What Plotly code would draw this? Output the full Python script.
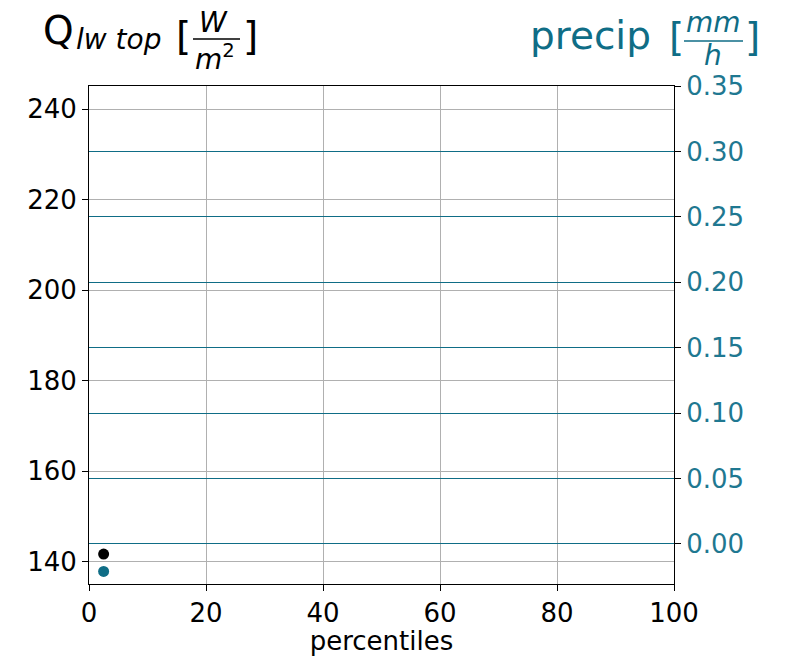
import plotly.graph_objects as go

# data
percentiles = [2.5]
q_lw_top = [141.7]
precip = [-0.021]

left_ticks = [140, 160, 180, 200, 220, 240]
right_ticks = [0.00, 0.05, 0.10, 0.15, 0.20, 0.25, 0.30, 0.35]
x_ticks = [0, 20, 40, 60, 80, 100]

TEAL = "#0f6d86"
TEAL_TXT = "#1f7891"
FONT = "DejaVu Sans"

W, H = 787, 656
L, R, T, B = 89, 113, 86, 72
PW, PH = W - L - R, H - T - B


def px(x):
    return (x - L) / PW


def py(y):
    return (H - B - y) / PH


fig = go.Figure()
fig.add_trace(go.Scatter(x=percentiles, y=q_lw_top, mode="markers",
                         marker=dict(color="black", size=11), yaxis="y", showlegend=False))
fig.add_trace(go.Scatter(x=percentiles, y=precip, mode="markers",
                         marker=dict(color=TEAL, size=11), yaxis="y2", showlegend=False))

fig.update_layout(
    width=W, height=H,
    margin=dict(l=L, r=R, t=T, b=B, autoexpand=False),
    plot_bgcolor="white", paper_bgcolor="white",
    font=dict(family=FONT, size=26, color="black"),
    xaxis=dict(range=[0, 100], tickvals=x_ticks, showgrid=True, gridcolor="#b0b0b0", gridwidth=1,
               showline=True, linecolor="black", linewidth=1, mirror=True, automargin=False,
               ticks="outside", ticklen=6, tickcolor="black", zeroline=False,
               title=dict(text="percentiles", font=dict(size=26))),
    yaxis=dict(range=[135.1, 245.1], tickvals=left_ticks, showgrid=True, gridcolor="#b0b0b0", gridwidth=1,
               showline=True, linecolor="black", linewidth=1, automargin=False,
               ticks="outside", ticklen=6, tickcolor="black", zeroline=False),
    yaxis2=dict(range=[-0.0306, 0.35], tickvals=right_ticks, tickformat=".2f", overlaying="y", side="right",
                showgrid=True, gridcolor=TEAL, gridwidth=1, automargin=False,
                showline=True, linecolor="black", linewidth=1,
                ticks="outside", ticklen=6, tickcolor="black", zeroline=False,
                tickfont=dict(color=TEAL_TXT)),
)

ann = []
shapes = []
# left title
ann.append(dict(text="Q", x=px(41), y=py(31), xanchor="left", yanchor="middle",
                font=dict(size=39, color="black")))
ann.append(dict(text="<i>lw top</i>", x=px(74), y=py(40), xanchor="left", yanchor="middle",
                font=dict(size=28, color="black")))
ann.append(dict(text="[", x=px(183), y=py(36), xanchor="center", yanchor="middle",
                font=dict(size=39, color="black")))
ann.append(dict(text="<i>W</i>", x=px(213), y=py(23), xanchor="center", yanchor="middle",
                font=dict(size=28, color="black")))
ann.append(dict(text="<i>m</i><sup>2</sup>", x=px(215), y=py(58), xanchor="center", yanchor="middle",
                font=dict(size=28, color="black")))
ann.append(dict(text="]", x=px(250), y=py(36), xanchor="center", yanchor="middle",
                font=dict(size=39, color="black")))
shapes.append(dict(type="line", xref="paper", yref="paper", x0=px(193), x1=px(240), y0=py(39), y1=py(39),
                   line=dict(color="black", width=1.5)))
# right title
ann.append(dict(text="precip", x=px(528), y=py(35), xanchor="left", yanchor="middle",
                font=dict(size=39, color=TEAL)))
ann.append(dict(text="[", x=px(676), y=py(37), xanchor="center", yanchor="middle",
                font=dict(size=39, color=TEAL)))
ann.append(dict(text="<i>mm</i>", x=px(713), y=py(23), xanchor="center", yanchor="middle",
                font=dict(size=28, color=TEAL)))
ann.append(dict(text="<i>h</i>", x=px(713), y=py(56), xanchor="center", yanchor="middle",
                font=dict(size=28, color=TEAL)))
ann.append(dict(text="]", x=px(752), y=py(37), xanchor="center", yanchor="middle",
                font=dict(size=39, color=TEAL)))
shapes.append(dict(type="line", xref="paper", yref="paper", x0=px(684), x1=px(743), y0=py(41), y1=py(41),
                   line=dict(color=TEAL, width=1.5)))

for a in ann:
    a.update(xref="paper", yref="paper", showarrow=False)
fig.update_layout(annotations=ann, shapes=shapes)

fig.write_html("out.html")
